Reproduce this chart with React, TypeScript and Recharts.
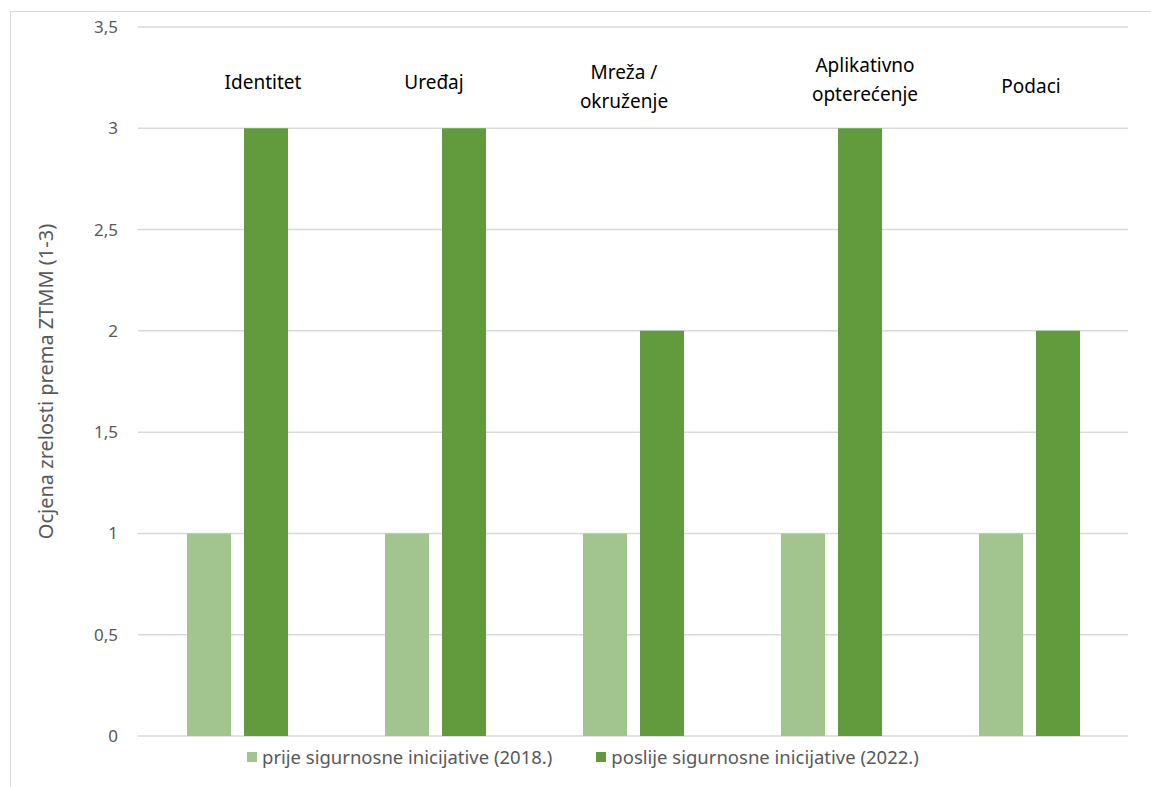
import React from 'react';
import {
  BarChart,
  Bar,
  XAxis,
  YAxis,
  CartesianGrid,
  Legend,
} from 'recharts';

const categories = ['Identitet', 'Uređaj', 'Mreža / okruženje', 'Aplikativno opterećenje', 'Podaci'];
const before2018 = [1, 1, 1, 1, 1];
const after2022 = [3, 3, 2, 3, 2];
const yTicks = [0, 0.5, 1, 1.5, 2, 2.5, 3, 3.5];

const seriesNames = {
  before: 'prije sigurnosne inicijative (2018.)',
  after: 'poslije sigurnosne inicijative (2022.)',
};

const COLORS = { before: '#a2c48f', after: '#629b3e' };
const FONT = '"Noto Sans", sans-serif';
const PLOT_TOP = 27;

// hand-placed text boxes in the original: nudges from the category centre / plot top
const labelNudge = [
  { dx: 26, dy: 55 },
  { dx: -1, dy: 55 },
  { dx: -9, dy: 45 },
  { dx: 34, dy: 38 },
  { dx: 2, dy: 59 },
];

const data = categories.map((name, i) => ({
  name,
  before: before2018[i],
  after: after2022[i],
}));

const splitLabel = (s: string) => {
  if (s.length <= 10 || s.indexOf(' ') < 0) return [s];
  const k = s.lastIndexOf(' ');
  return [s.slice(0, k), s.slice(k + 1)];
};

const CategoryTick = (props: any) => {
  const { x, payload, index } = props;
  const nudge = labelNudge[index] || { dx: 0, dy: 55 };
  const lines = splitLabel(String(payload.value));
  return (
    <text
      x={x + nudge.dx}
      y={PLOT_TOP + nudge.dy}
      textAnchor="middle"
      dominantBaseline="central"
      fill="#000"
      fontFamily={FONT}
      fontSize={19}
    >
      {lines.map((l, i) => (
        <tspan key={i} x={x + nudge.dx} dy={i === 0 ? 0 : 29}>
          {l}
        </tspan>
      ))}
    </text>
  );
};

const YLabel = (props: any) => {
  const vb = props.viewBox;
  const cx = vb.x + 7;
  const cy = vb.y + vb.height / 2;
  return (
    <text
      x={cx}
      y={cy}
      transform={`rotate(-90, ${cx}, ${cy})`}
      textAnchor="middle"
      dominantBaseline="central"
      fill="#595959"
      fontFamily={FONT}
      fontSize={20}
    >
      Ocjena zrelosti prema ZTMM (1-3)
    </text>
  );
};

const LegendContent = () => (
  <div
    style={{
      display: 'flex',
      alignItems: 'center',
      paddingLeft: 247,
      fontFamily: FONT,
      fontSize: 18.5,
      color: '#595959',
      lineHeight: '20px',
      height: 20,
    }}
  >
    {(['before', 'after'] as const).map((k, i) => (
      <div key={k} style={{ display: 'flex', alignItems: 'center', marginLeft: i ? 44 : 0 }}>
        <span style={{ width: 10, height: 10, background: COLORS[k], marginRight: 5 }} />
        <span>{seriesNames[k]}</span>
      </div>
    ))}
  </div>
);

export default function App() {
  return (
    <div
      style={{
        position: 'fixed',
        left: 0,
        top: 0,
        width: 1151,
        height: 787,
        background: '#fff',
        overflow: 'hidden',
      }}
    >
      {/* frame of the original chart area */}
      <div
        style={{
          position: 'absolute',
          left: 10,
          top: 11,
          width: 1200,
          height: 900,
          borderLeft: '1.5px solid #d9d9d9',
          borderTop: '1.5px solid #d9d9d9',
        }}
      />
      <div style={{ position: 'absolute', left: 0, top: 0 }}>
        <BarChart
          width={1151}
          height={787}
          data={data}
          margin={{ top: PLOT_TOP, right: 23, bottom: 30, left: 38 }}
          barSize={44}
          barGap={13}
        >
          <CartesianGrid vertical={false} stroke="#d9d9d9" strokeWidth={1.5} />
          <XAxis
            dataKey="name"
            height={1}
            axisLine={false}
            tickLine={false}
            tick={<CategoryTick />}
            interval={0}
          />
          <YAxis
            width={100}
            domain={[0, 3.5]}
            ticks={yTicks}
            interval={0}
            axisLine={false}
            tickLine={false}
            tickMargin={14}
            tickFormatter={(v: number) => String(v).replace('.', ',')}
            tick={{ fill: '#595959', fontSize: 17, fontFamily: FONT }}
            label={{ content: <YLabel /> }}
          />
          <Legend
            verticalAlign="bottom"
            wrapperStyle={{ top: 747, left: 0, width: 1151, height: 20 }}
            content={<LegendContent />}
          />
          <Bar dataKey="before" name={seriesNames.before} fill={COLORS.before} isAnimationActive={false} />
          <Bar dataKey="after" name={seriesNames.after} fill={COLORS.after} isAnimationActive={false} />
        </BarChart>
      </div>
    </div>
  );
}
